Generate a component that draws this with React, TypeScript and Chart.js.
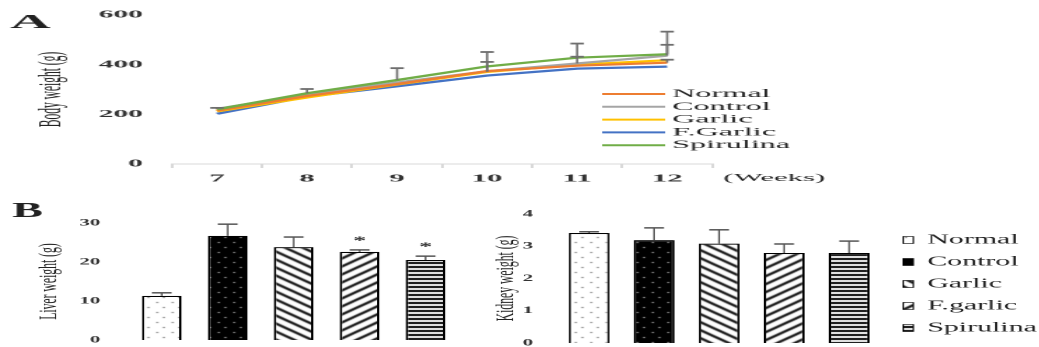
import React, { useEffect, useRef } from 'react';
import { Chart, registerables } from 'chart.js';

Chart.register(...registerables);

const FONT = "'Liberation Serif', 'Times New Roman', serif";

// ---------- Panel A : body weight ----------
const weeks = ['7', '8', '9', '10', '11', '12'];
const groupsA = ['Normal', 'Control', 'Garlic', 'F.Garlic', 'Spirulina'];
const colorsA = ['#ED7D31', '#A5A5A5', '#FFC000', '#4472C4', '#70AD47'];
const normalW = [215, 274, 322, 374, 396, 408];
const controlW = [222, 280, 328, 374, 405, 436];
const garlicW = [212, 268, 320, 371, 400, 418];
const fGarlicW = [202, 271, 313, 356, 384, 392];
const spirulinaW = [220, 285, 338, 393, 428, 442];
const normalErr = [0, 0, 0, 0, 0, 12];
const controlErr = [4, 0, 0, 37, 80, 44];
const garlicErr = [0, 0, 0, 80, 0, 0];
const fGarlicErr = [0, 0, 0, 0, 0, 0];
const spirulinaErr = [0, 17, 48, 0, 4, 91];
const yTicksA = [0, 200, 400, 600];

// ---------- Panel B : organ weights ----------
const groupsB = ['Normal', 'Control', 'Garlic', 'F.garlic', 'Spirulina'];
const patternKinds = ['dots', 'darkdots', 'back', 'fwd', 'horiz'];
const liverMean = [11.3, 26.7, 23.8, 22.6, 20.5];
const liverErr = [0.8, 3.0, 2.6, 0.5, 1.0];
const liverSig = ['', '', '', '*', '*'];
const kidneyMean = [3.41, 3.19, 3.08, 2.79, 2.79];
const kidneyErr = [0.04, 0.38, 0.43, 0.28, 0.37];
const kidneySig = ['', '', '', '', ''];

function makePattern(kind: string, ctx: CanvasRenderingContext2D): CanvasPattern {
  const c = document.createElement('canvas');
  const g = c.getContext('2d') as CanvasRenderingContext2D;
  if (kind === 'dots' || kind === 'darkdots') {
    c.width = 7; c.height = 10;
    g.fillStyle = kind === 'dots' ? '#ffffff' : '#000000';
    g.fillRect(0, 0, 7, 10);
    g.fillStyle = kind === 'dots' ? '#6a6a6a' : '#b8b8b8';
    g.fillRect(1, 2, 1, 1);
    g.fillRect(4, 7, 1, 1);
  } else if (kind === 'back' || kind === 'fwd') {
    c.width = 8; c.height = 8;
    g.fillStyle = '#ffffff';
    g.fillRect(0, 0, 8, 8);
    g.strokeStyle = '#000000';
    g.lineWidth = 1.7;
    g.beginPath();
    if (kind === 'back') {
      g.moveTo(-1, -1); g.lineTo(9, 9);
      g.moveTo(-1, 7); g.lineTo(1, 9);
      g.moveTo(7, -1); g.lineTo(9, 1);
    } else {
      g.moveTo(-1, 9); g.lineTo(9, -1);
      g.moveTo(-1, 1); g.lineTo(1, -1);
      g.moveTo(7, 9); g.lineTo(9, 7);
    }
    g.stroke();
  } else {
    c.width = 4; c.height = 4;
    g.fillStyle = '#ffffff';
    g.fillRect(0, 0, 4, 4);
    g.fillStyle = '#000000';
    g.fillRect(0, 0, 4, 2);
  }
  return ctx.createPattern(c, 'repeat') as CanvasPattern;
}

const lineErrPlugin = {
  id: 'lineErr',
  afterDatasetsDraw(chart: any) {
    const ctx = chart.ctx;
    const ys = chart.scales.y;
    chart.data.datasets.forEach((ds: any, i: number) => {
      const meta = chart.getDatasetMeta(i);
      meta.data.forEach((pt: any, j: number) => {
        const e = ds.errors[j];
        if (!e) return;
        const y0 = ys.getPixelForValue(ds.data[j]);
        const y1 = ys.getPixelForValue(ds.data[j] + e);
        ctx.save();
        ctx.strokeStyle = '#6e6e6e';
        ctx.lineWidth = 0.8;
        ctx.beginPath();
        ctx.moveTo(pt.x, y0); ctx.lineTo(pt.x, y1);
        ctx.stroke();
        ctx.lineWidth = 1.8;
        ctx.beginPath();
        ctx.moveTo(pt.x - 2.4, y1); ctx.lineTo(pt.x + 2.4, y1);
        ctx.stroke();
        ctx.restore();
      });
    });
  },
};

const lineDecorPlugin = {
  id: 'lineDecor',
  afterDraw(chart: any) {
    const ctx = chart.ctx;
    const area = chart.chartArea;
    ctx.save();
    ctx.fillStyle = '#222';
    ctx.font = `bold 20px ${FONT}`;
    ctx.textBaseline = 'alphabetic';
    ctx.fillText('A', 3.6, 28);
    ctx.font = `11.5px ${FONT}`;
    ctx.textBaseline = 'middle';
    chart.data.datasets.forEach((ds: any, i: number) => {
      const y = 94 + i * 12.8;
      ctx.strokeStyle = ds.borderColor;
      ctx.lineWidth = 2;
      ctx.beginPath();
      ctx.moveTo(215, y); ctx.lineTo(237.5, y);
      ctx.stroke();
      ctx.fillText(ds.label, 240, y);
    });
    ctx.font = `11px ${FONT}`;
    ctx.fillText('(Weeks)', area.right + 4, 178);
    ctx.restore();
  },
};

const barErrPlugin = {
  id: 'barErr',
  afterDatasetsDraw(chart: any) {
    const ctx = chart.ctx;
    const ys = chart.scales.y;
    const ds: any = chart.data.datasets[0];
    const meta = chart.getDatasetMeta(0);
    meta.data.forEach((bar: any, j: number) => {
      const y0 = ys.getPixelForValue(ds.data[j]);
      const y1 = ys.getPixelForValue(ds.data[j] + ds.errors[j]);
      ctx.save();
      ctx.strokeStyle = '#555';
      ctx.lineWidth = 0.8;
      ctx.beginPath();
      ctx.moveTo(bar.x, y0); ctx.lineTo(bar.x, y1);
      ctx.stroke();
      ctx.lineWidth = 1.5;
      ctx.beginPath();
      ctx.moveTo(bar.x - 4.5, y1); ctx.lineTo(bar.x + 4.5, y1);
      ctx.stroke();
      if (ds.sig[j]) {
        ctx.fillStyle = '#333';
        ctx.font = `bold 12px ${FONT}`;
        ctx.textAlign = 'center';
        ctx.textBaseline = 'middle';
        ctx.fillText(ds.sig[j], bar.x, y1 - 9);
      }
      ctx.restore();
    });
  },
};

const bLabelPlugin = {
  id: 'bLabel',
  afterDraw(chart: any) {
    const ctx = chart.ctx;
    ctx.save();
    ctx.fillStyle = '#222';
    ctx.font = `bold 21px ${FONT}`;
    ctx.fillText('B', 5.5, 27);
    ctx.restore();
  },
};

const bLegendPlugin = {
  id: 'bLegend',
  afterDraw(chart: any) {
    const ctx = chart.ctx;
    const ds: any = chart.data.datasets[0];
    ctx.save();
    ctx.font = `13.6px ${FONT}`;
    ctx.textBaseline = 'middle';
    chart.data.labels.forEach((lab: string, i: number) => {
      const y = 50 + i * 22;
      ctx.fillStyle = ds.backgroundColor[i];
      ctx.fillRect(192.3, y - 3.5, 4.6, 7);
      ctx.strokeStyle = '#000';
      ctx.lineWidth = 0.6;
      ctx.strokeRect(192.3, y - 3.5, 4.6, 7);
      ctx.fillStyle = '#222';
      ctx.fillText(lab, 203.2, y);
    });
    ctx.restore();
  },
};

function fixAxis(width: number) {
  return (s: any) => {
    s.width = width;
    s.paddingTop = 0;
    s.paddingBottom = 0;
  };
}

function lineConfig(): any {
  const series = [normalW, controlW, garlicW, fGarlicW, spirulinaW];
  const errs = [normalErr, controlErr, garlicErr, fGarlicErr, spirulinaErr];
  return {
    type: 'line',
    data: {
      labels: weeks,
      datasets: groupsA.map((g, i) => ({
        label: g,
        data: series[i],
        errors: errs[i],
        borderColor: colorsA[i],
        backgroundColor: colorsA[i],
        borderWidth: 2.2,
        pointRadius: 0,
        tension: 0,
        fill: false,
        order: i === 4 ? 0 : i + 1,
      })),
    },
    options: {
      animation: false,
      responsive: false,
      devicePixelRatio: 2,
      layout: { padding: { left: 0, right: 116.7, top: 15, bottom: 0 } },
      plugins: { legend: { display: false }, tooltip: { enabled: false } },
      scales: {
        x: {
          offset: true,
          grid: { display: true, drawOnChartArea: false, drawTicks: true, tickLength: 4, color: '#d9d9d9', offset: true },
          border: { display: true, color: '#d9d9d9', width: 1 },
          ticks: { padding: 4, color: '#333', font: { family: FONT, size: 11, weight: 'bold' } },
          afterFit: (s: any) => { s.height = 26; s.paddingLeft = 0; s.paddingRight = 0; },
        },
        y: {
          min: 0,
          max: 600,
          afterBuildTicks: (s: any) => { s.ticks = yTicksA.map((v) => ({ value: v })); },
          grid: { display: false, drawTicks: false },
          border: { display: false },
          ticks: { padding: 10.4, color: '#333', font: { family: FONT, size: 10.5, weight: 'bold' } },
          title: { display: true, text: 'Body weight (g)', color: '#222', font: { family: FONT, size: 11.5 }, padding: { top: 11.8, bottom: 0 } },
          afterFit: fixAxis(61.4),
        },
      },
    },
    plugins: [lineErrPlugin, lineDecorPlugin],
  };
}

function barConfig(ctx: CanvasRenderingContext2D, opts: any): any {
  return {
    type: 'bar',
    data: {
      labels: groupsB,
      datasets: [{
        data: opts.mean,
        errors: opts.err,
        sig: opts.sig,
        backgroundColor: patternKinds.map((k) => makePattern(k, ctx)),
        borderColor: '#000',
        borderWidth: 1.1,
        barPercentage: opts.barPct,
        categoryPercentage: 1,
      }],
    },
    options: {
      animation: false,
      responsive: false,
      devicePixelRatio: 2,
      layout: { padding: opts.padding },
      plugins: { legend: { display: false }, tooltip: { enabled: false } },
      scales: {
        x: {
          display: true,
          grid: { display: false, drawTicks: false },
          border: { display: false },
          ticks: { display: false },
          afterFit: (s: any) => { s.height = opts.bottomGap; },
        },
        y: {
          min: 0,
          max: opts.max,
          ticks: { stepSize: opts.step, padding: opts.tickPad, color: '#333', font: { family: FONT, size: 9.5, weight: 'bold' } },
          grid: { display: false, drawTicks: false },
          border: { display: false },
          title: { display: true, text: opts.title, color: '#222', font: { family: FONT, size: 11.7 }, padding: { top: opts.titlePad, bottom: 0 } },
          afterFit: fixAxis(opts.axisW),
        },
      },
    },
    plugins: opts.plugins,
  };
}

function StretchedChart(props: { left: number; top: number; w: number; h: number; sx: number; build: (ctx: CanvasRenderingContext2D) => any }) {
  const ref = useRef<HTMLCanvasElement>(null);
  useEffect(() => {
    const canvas = ref.current as HTMLCanvasElement;
    const ctx = canvas.getContext('2d') as CanvasRenderingContext2D;
    const chart = new Chart(canvas, props.build(ctx));
    return () => chart.destroy();
  }, []);
  return (
    <canvas
      ref={ref}
      width={props.w}
      height={props.h}
      style={{ position: 'absolute', left: props.left + 'px', top: props.top + 'px', width: props.w * props.sx + 'px', height: props.h + 'px' }}
    />
  );
}

export default function App() {
  return (
    <div style={{ position: 'absolute', left: 0, top: 0, width: '1039px', height: '347px', background: '#fff', overflow: 'hidden' }}>
      <StretchedChart left={0} top={0} w={371} h={190} sx={2.8} build={() => lineConfig()} />
      <StretchedChart
        left={0} top={190} w={227} h={157} sx={2.2}
        build={(ctx) => barConfig(ctx, {
          mean: liverMean, err: liverErr, sig: liverSig, barPct: 0.6,
          padding: { left: 0, right: 18.4, top: 33, bottom: 0 }, bottomGap: 7,
          max: 30, step: 10, tickPad: 13, title: 'Liver weight (g)', titlePad: 15.3, axisW: 58.6,
          plugins: [barErrPlugin, bLabelPlugin],
        })}
      />
      <StretchedChart
        left={480} top={190} w={254} h={157} sx={2.2}
        build={(ctx) => barConfig(ctx, {
          mean: kidneyMean, err: kidneyErr, sig: kidneySig, barPct: 0.63,
          padding: { left: 0, right: 71.5, top: 24, bottom: 0 }, bottomGap: 4,
          max: 4, step: 1, tickPad: 10.7, title: 'Kidney weight (g)', titlePad: 4.8, axisW: 34.8,
          plugins: [barErrPlugin, bLegendPlugin],
        })}
      />
    </div>
  );
}
